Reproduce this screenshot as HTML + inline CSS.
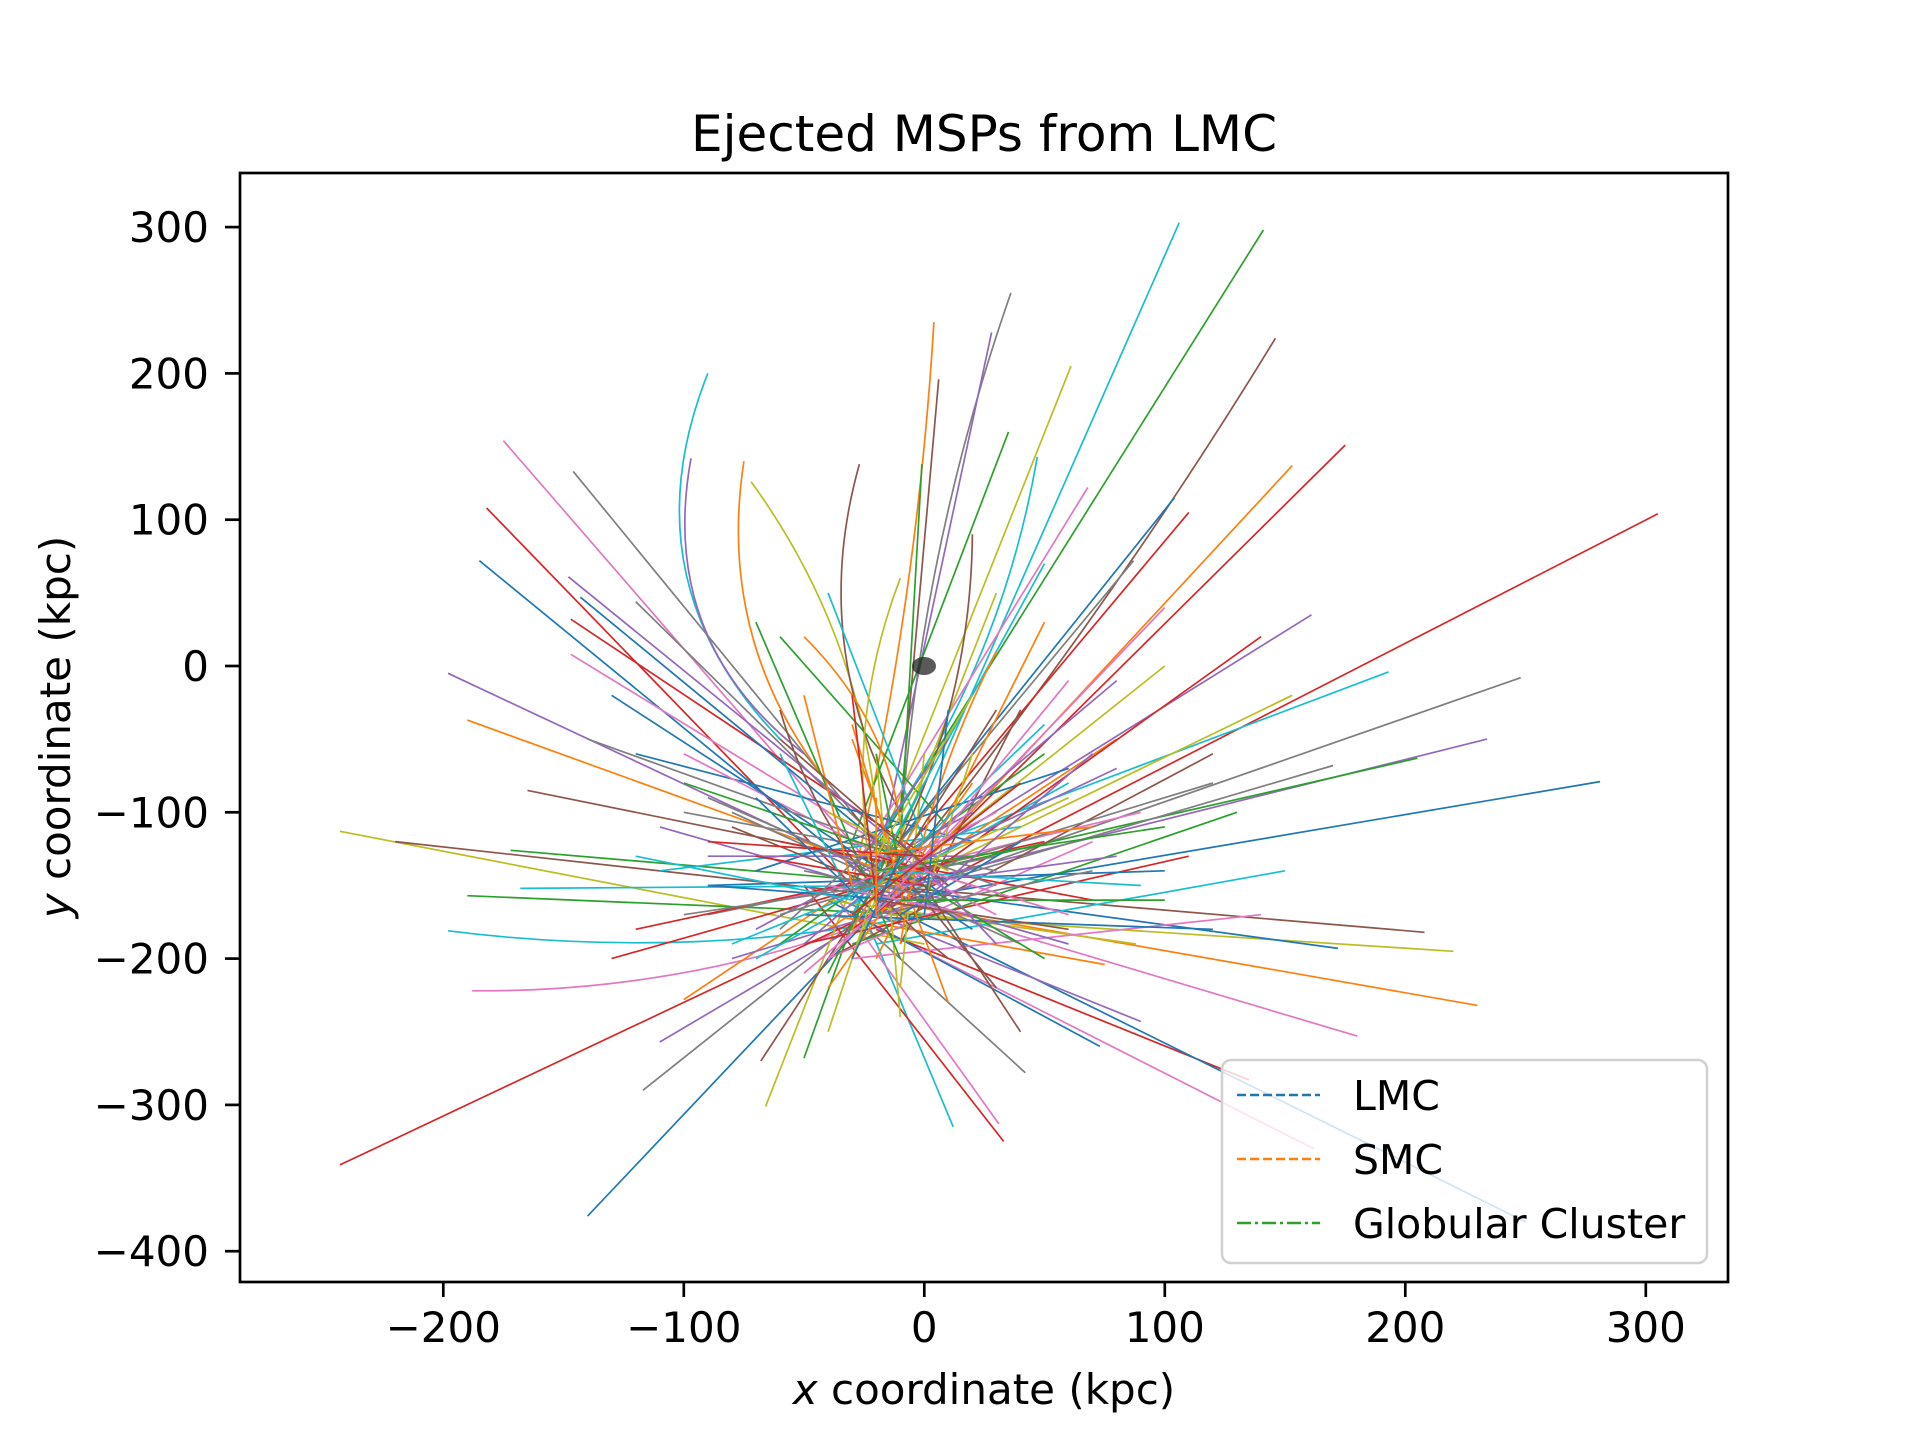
<!DOCTYPE html>
<html><head><meta charset="utf-8"><style>
html,body{margin:0;padding:0;background:#fff}
svg{display:block}
text{font-family:"DejaVu Sans","Liberation Sans",sans-serif;fill:#000}
</style></head><body>
<svg id="chart" width="1920" height="1440" viewBox="0 0 1920 1440" xmlns="http://www.w3.org/2000/svg">
<defs><clipPath id="plotclip"><rect x="240" y="173" width="1488" height="1109"/></clipPath></defs>
<rect width="1920" height="1440" fill="#fff"/>
<text x="984" y="151" font-size="50" text-anchor="middle">Ejected MSPs from LMC</text>
<g id="traj" clip-path="url(#plotclip)"></g>
<ellipse cx="924" cy="666" rx="12" ry="9" fill="#222" opacity="0.75"/>
<g id="axes"></g>
<rect x="240" y="173" width="1488" height="1109" fill="none" stroke="#000" stroke-width="2.7"/>
<text x="984" y="1404" font-size="42" text-anchor="middle"><tspan font-style="italic">x</tspan> coordinate (kpc)</text>
<text transform="translate(70,727) rotate(-90)" font-size="42" text-anchor="middle"><tspan font-style="italic">y</tspan> coordinate (kpc)</text>
<g>
<rect x="1222" y="1060" width="485" height="203" rx="9" fill="rgba(255,255,255,0.8)" stroke="#d0d0d0" stroke-width="2.5"/>
<line x1="1237" y1="1095" x2="1320" y2="1095" stroke="#1f77b4" stroke-width="2.5" stroke-dasharray="9,4"/>
<text x="1353" y="1110" font-size="41">LMC</text>
<line x1="1237" y1="1159" x2="1320" y2="1159" stroke="#ff7f0e" stroke-width="2.5" stroke-dasharray="9,4"/>
<text x="1353" y="1174" font-size="41">SMC</text>
<line x1="1237" y1="1223" x2="1320" y2="1223" stroke="#2ca02c" stroke-width="2.5" stroke-dasharray="14,4,3,4"/>
<text x="1353" y="1238" font-size="41">Globular Cluster</text>
</g>
</svg>
<script>
const xTicks=[-200,-100,0,100,200,300];
const yTicks=[300,200,100,0,-100,-200,-300,-400];
const startX=[-20,-10,0,-10,-20,-15,-20,0,-10,-30,-10,-20,-20,-10,-20,-10,-20,-30,-10,-30,-20,-20,-10,-20,-30,-20,-10,-30,-60,-20,-30,-20,-10,-50,-40,-20,-10,-10,-20,-30,-20,-30,-20,-10,0,0,0,0,0,0,-10,-10,-10,-10,-20,-30,-20,-20,-30,-40,-50,-40,-30,-50,-40,-40,0,0,0,10,10,10,0,10,-40,-30,-40,-30,-20,-30,20,20,30,20,-20,-30,-10,10,0,-40,-50,-50,30,20,-40,-10,-30,0,40,-60,-60,-70,-80,-90,-30,-20,-60,50,60,-100,-120,100,120,-110,-50,-10,20,-70,50,100,140,-130,-140,80,30,
-20,-20,-10,-30,0,-20,-10,-20,-30,-10,0,-20,-10,-20,-30,0,-10,-20,-10,-30,10,-20,-10,-20,-40,0,-20,10,-10,-30,-20,0,-20,-30,-10,-20,0,-20,-10,-30,-20,10,-10,-20,0,-30,-10,-20,0,-20];
const startY=[-170,-160,-150,-150,-160,-170,-150,-140,-130,-150,-150,-150,-160,-140,-170,-150,-160,-150,-130,-170,-180,-160,-120,-140,-150,-130,-100,-120,-50,-140,-150,-150,-140,-60,-80,-100,-100,-120,-120,-140,-150,-160,-140,-150,-150,-190,-160,-170,-170,-160,-160,-150,-150,-160,-140,-150,-150,-130,-150,-150,-150,-160,-170,-150,-170,-160,-140,-150,-150,-150,-140,-160,-150,-150,-180,-170,-200,-190,-190,-200,-130,-120,-140,-150,-200,-200,-190,-110,-120,-200,-190,-170,-130,-100,-220,-220,-100,-80,-110,-160,-120,-140,-100,-130,-50,-60,-30,-60,-80,-60,-180,-140,-80,-110,20,60,90,30,70,40,20,-20,-50,-10,10,
-150,-150,-140,-160,-140,-130,-160,-170,-140,-150,-160,-160,-130,-140,-150,-150,-170,-120,-150,-180,-140,-160,-140,-150,-150,-130,-170,-160,-120,-130,-150,-150,-140,-160,-150,-160,-170,-150,-140,-150,-130,-150,-160,-150,-140,-170,-130,-140,-160,-170];
const endX=[305,281,248,234,230,220,208,205,193,180,175,172,170,161,153,153,146,141,106,162,135,250,36,28,4,61,6,35,-90,-175,-182,-185,-146,-97,-75,-72,-27,-1,47,68,110,104,87,-198,-190,-243,-220,-190,-198,-188,-243,-140,-117,-110,-100,-66,-68,-50,12,31,33,73,42,90,75,88,-165,-172,-168,-147,-147,-143,-120,-148,80,100,120,130,150,140,-130,-120,-100,-80,50,30,40,-60,-40,70,110,120,-90,-70,20,0,30,-40,-110,90,70,60,40,20,10,-10,10,-60,-70,30,50,-90,-60,60,-10,-20,-20,-10,-30,-40,-30,20,30,-50,-10,
60,-80,50,-60,-50,40,-90,70,10,-30,20,60,-100,90,30,-70,40,-60,80,0,-40,30,-20,50,20,-90,-70,-50,30,70,-40,40,100,-120,60,-30,10,-100,80,-50,20,-60,100,-80,60,40,-30,-90,70,-20];
const endY=[104,-79,-8,-50,-232,-195,-182,-63,-4,-253,151,-193,-68,35,137,-20,224,298,303,-330,-283,-380,255,228,235,205,196,160,200,154,108,72,133,142,140,126,138,138,143,122,105,115,72,-5,-37,-113,-120,-157,-181,-222,-341,-376,-290,-257,-228,-301,-270,-268,-315,-313,-325,-260,-278,-243,-204,-190,-85,-126,-152,8,32,47,44,61,-50,0,-60,-100,-140,-170,-200,-60,-100,-200,30,50,-30,20,50,-120,-130,-180,-170,-180,-80,-60,-220,-210,-140,-100,-160,-70,-190,-130,-230,-240,-200,-190,-200,-170,-120,-150,-170,-190,-170,-160,-150,-200,-170,-200,-180,-180,-150,-190,-190,
-90,-110,-200,-60,-210,-160,-150,-140,-50,-40,-60,-180,-80,-150,-100,-130,-120,-180,-130,-100,-100,-30,-60,-40,-170,-120,-90,-140,-190,-110,-250,-250,-110,-130,-10,-20,-30,-170,-70,-20,-20,-50,-160,-190,-170,-80,-200,-90,-60,-90];
const bend=[0,0,0,0,0,0,0,0,0,0,0,0,0,0,0,0,5,0,0,0,0,0,-8,0,5,0,0,0,-25,0,0,0,0,-20,-15,10,-15,0,10,0,0,0,0,0,0,0,0,0,-8,-10,0,0,0,0,0,0,0,0,0,0,0,0,0,0,0,0,0,0,0,0,0,0,0,0,0,0,0,0,0,0,0,0,0,0,0,0,0,0,0,0,0,0,0,0,0,0,0,0,0,0,0,0,0,0,0,0,10,0,0,0,0,0,0,0,-15,10,-10,0,0,0,0,0,0,0,5,
0,0,0,0,0,0,0,0,0,0,0,0,0,0,0,0,0,0,0,0,0,0,0,0,0,0,0,0,0,0,0,0,0,0,0,0,0,0,0,0,0,0,0,0,0,0,0,0,0,0];
const palette=['#1f77b4','#ff7f0e','#2ca02c','#d62728','#9467bd','#8c564b','#e377c2','#7f7f7f','#bcbd22','#17becf'];
const X0=924.3,XS=2.405,Y0=666,YS=1.463;
function sx(v){return X0+v*XS;}
function sy(v){return Y0-v*YS;}
const NS='http://www.w3.org/2000/svg';
const g=document.getElementById('traj');
for(let i=0;i<endX.length;i++){
  const ax=sx(startX[i]),ay=sy(startY[i]),bx=sx(endX[i]),by=sy(endY[i]);
  const dx=bx-ax,dy=by-ay,len=Math.hypot(dx,dy)||1;
  const bpx=(bend[i]||0)*XS;
  const cx=(ax+bx)/2-dy/len*bpx*2,cy=(ay+by)/2+dx/len*bpx*2;
  const p=document.createElementNS(NS,'path');
  p.setAttribute('d',`M${ax.toFixed(1)},${ay.toFixed(1)} Q${cx.toFixed(1)},${cy.toFixed(1)} ${bx.toFixed(1)},${by.toFixed(1)}`);
  p.setAttribute('fill','none');
  p.setAttribute('stroke',palette[(i*7+3)%10]);
  p.setAttribute('stroke-width','1.7');
  
  
  g.appendChild(p);
}
const axes=document.getElementById('axes');
xTicks.forEach(v=>{
  const x=sx(v);
  const l=document.createElementNS(NS,'line');
  l.setAttribute('x1',x);l.setAttribute('x2',x);l.setAttribute('y1',1282);l.setAttribute('y2',1297);
  l.setAttribute('stroke','#000');l.setAttribute('stroke-width','2.7');
  
  
  axes.appendChild(l);
  const t=document.createElementNS(NS,'text');
  t.setAttribute('x',x);t.setAttribute('y',1342);t.setAttribute('font-size','42');t.setAttribute('text-anchor','middle');
  t.textContent=(v<0?'\u2212':'')+Math.abs(v);
  
  
  axes.appendChild(t);
});
yTicks.forEach(v=>{
  const y=sy(v);
  const l=document.createElementNS(NS,'line');
  l.setAttribute('x1',225);l.setAttribute('x2',240);l.setAttribute('y1',y);l.setAttribute('y2',y);
  l.setAttribute('stroke','#000');l.setAttribute('stroke-width','2.7');
  
  
  axes.appendChild(l);
  const t=document.createElementNS(NS,'text');
  t.setAttribute('x',209);t.setAttribute('y',y+15);t.setAttribute('font-size','42');t.setAttribute('text-anchor','end');
  t.textContent=(v<0?'\u2212':'')+Math.abs(v);
  
  
  axes.appendChild(t);
});
</script>
</body></html>
